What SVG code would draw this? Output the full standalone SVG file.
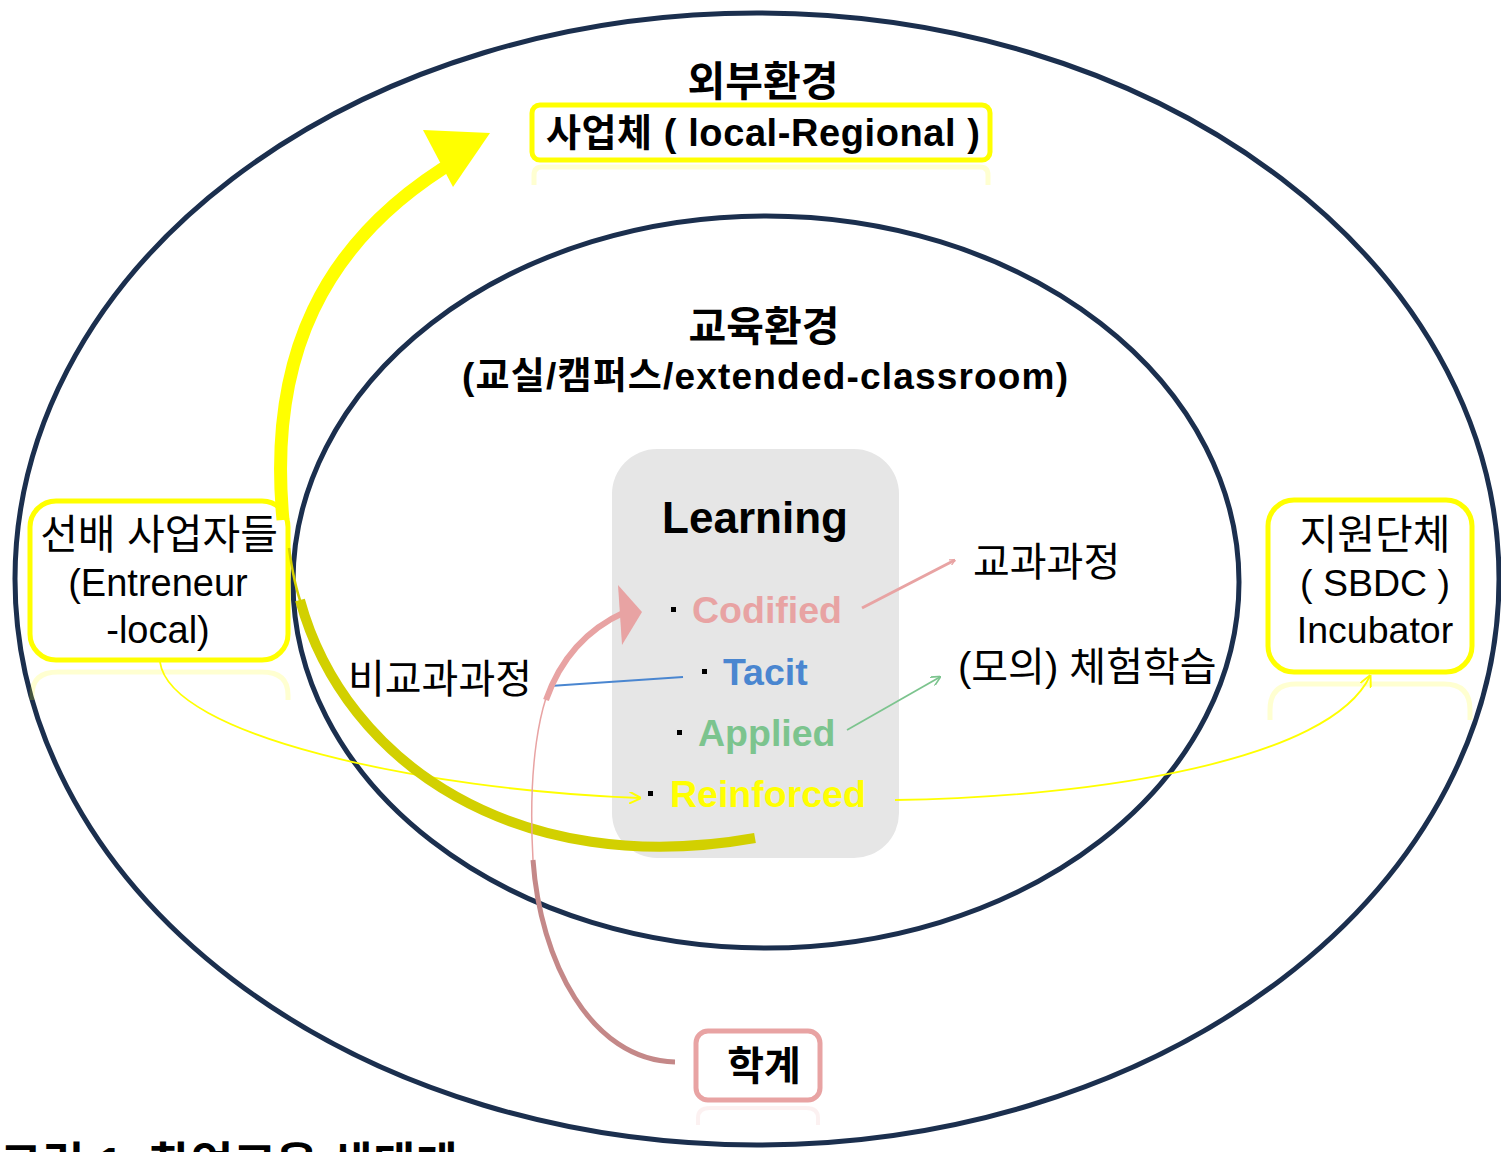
<svg xmlns="http://www.w3.org/2000/svg" width="1501" height="1152" viewBox="0 0 1501 1152">
<defs>
<style>
.ring{fill:none;stroke:#1b2f4e;stroke-width:5}
.t{font-family:"Liberation Sans","Noto Sans CJK KR",sans-serif;fill:#000}
.b{font-weight:bold}
.ybox{fill:#fff;stroke:#ffff00;stroke-width:5}
.refl{fill:none;stroke:#ffff00;stroke-width:5;opacity:0.18}
.c{font-family:"Liberation Sans","Noto Sans CJK KR",sans-serif;font-weight:bold;font-size:37.5px}
</style>
<marker id="ap" viewBox="0 0 10 10" refX="9" refY="5" markerWidth="6" markerHeight="6" orient="auto" markerUnits="userSpaceOnUse"><path d="M0,0 L10,5 L0,10" fill="none" stroke="#e8a3a3" stroke-width="2"/></marker>
<marker id="ag" viewBox="0 0 10 10" refX="9" refY="5" markerWidth="10" markerHeight="10" orient="auto" markerUnits="userSpaceOnUse"><path d="M0,0 L10,5 L0,10" fill="none" stroke="#7cc48e" stroke-width="1.6"/></marker>
<marker id="ay" viewBox="0 0 10 10" refX="9" refY="5" markerWidth="12" markerHeight="12" orient="auto" markerUnits="userSpaceOnUse"><path d="M0,0 L10,5 L0,10" fill="none" stroke="#ffff00" stroke-width="1.6"/></marker>
</defs>
<rect width="1501" height="1152" fill="#fff"/>

<g id="outer-env">
<ellipse class="ring" cx="757" cy="579" rx="742" ry="566"/>
<text class="t b" x="763" y="96" font-size="41" text-anchor="middle">외부환경</text>
</g>
<g id="edu-env">
<ellipse class="ring" cx="766" cy="582" rx="473" ry="366"/>
<text class="t b" x="764" y="341" font-size="41" text-anchor="middle">교육환경</text>
<text class="t b" x="765" y="389" font-size="37" text-anchor="middle" textLength="606" lengthAdjust="spacing">(교실/캠퍼스/extended-classroom)</text>
</g>

<g id="learning">
<rect x="612" y="449" width="287" height="409" rx="45" fill="#e6e6e6"/>
<text class="t b" x="755" y="533" font-size="44" text-anchor="middle">Learning</text>
<rect x="671" y="607" width="5" height="5" fill="#000"/>
<text class="c" x="692" y="623" fill="#e8a3a3">Codified</text>
<rect x="702" y="669" width="5" height="5" fill="#000"/>
<text class="c" x="723" y="685" fill="#4a86d0">Tacit</text>
<rect x="677" y="730" width="5" height="5" fill="#000"/>
<text class="c" x="698" y="746" fill="#7cc48e">Applied</text>
<rect x="648" y="791" width="5" height="5" fill="#000"/>
<text class="c" x="670" y="807" fill="#ffff00">Reinforced</text>
</g>

<g id="business">
<rect class="ybox" x="532" y="105" width="458" height="55" rx="8"/>
<path class="refl" d="M534,185 V175 Q534,167 542,167 H980 Q988,167 988,175 V185"/>
<text class="t b" x="763" y="146" font-size="38" text-anchor="middle" textLength="434" lengthAdjust="spacing">사업체 ( local-Regional  )</text>
</g>

<g id="seniors">
<rect class="ybox" x="30" y="501" width="258" height="159" rx="26" stroke-width="6"/>
<path class="refl" d="M32,700 V695 Q32,672 58,672 H262 Q288,672 288,695 V700"/>
<text class="t" x="159" y="549" font-size="41" text-anchor="middle">선배 사업자들</text>
<text class="t" x="158" y="596" font-size="38" text-anchor="middle">(Entreneur</text>
<text class="t" x="158" y="643" font-size="38" text-anchor="middle">-local)</text>
</g>

<g id="support">
<rect class="ybox" x="1268" y="500" width="204" height="172" rx="26" stroke-width="6"/>
<path class="refl" d="M1270,720 V710 Q1270,684 1296,684 H1444 Q1470,684 1470,710 V720"/>
<text class="t" x="1375" y="549" font-size="41" text-anchor="middle">지원단체</text>
<text class="t" x="1375" y="596" font-size="37.5" text-anchor="middle">( SBDC )</text>
<text class="t" x="1375" y="643" font-size="37.5" text-anchor="middle">Incubator</text>
</g>

<g id="academia">
<rect x="696" y="1031" width="124" height="69" rx="12" fill="#fff" stroke="#e8a3a3" stroke-width="5"/>
<path d="M698,1125 V1118 Q698,1108 710,1108 H806 Q818,1108 818,1118 V1125" fill="none" stroke="#e8a3a3" stroke-width="4" opacity="0.15"/>
<text class="t b" x="764" y="1080" font-size="40" text-anchor="middle">학계</text>
</g>

<g id="labels">
<text class="t" x="973" y="576" font-size="40">교과과정</text>
<text class="t" x="958" y="681" font-size="40">(모의) 체험학습</text>
<text class="t" x="348" y="693" font-size="40">비교과과정</text>
</g>

<g id="caption">
<text class="t b" x="0" y="1180" font-size="46">그림 1. 창업교육 생태계</text>
</g>

<g id="connectors">
<line x1="862" y1="608" x2="955" y2="560" stroke="#e8a3a3" stroke-width="3" marker-end="url(#ap)"/>
<line x1="683" y1="677" x2="550" y2="686" stroke="#4a86d0" stroke-width="2"/>
<line x1="847" y1="730" x2="940" y2="677" stroke="#7cc48e" stroke-width="1.8" marker-end="url(#ag)"/>
<path d="M160,662 C170,735 420,790 640,798" fill="none" stroke="#ffff00" stroke-width="1.8" marker-end="url(#ay)"/>
<path d="M895,800 C1100,797 1330,760 1370,676" fill="none" stroke="#ffff00" stroke-width="1.8" marker-end="url(#ay)"/>
<path d="M289,548 C292,570 296,590 302,606" fill="none" stroke="#d4d000" stroke-width="2.5"/>
<path d="M300,600 C345,765 520,880 755,838" fill="none" stroke="#d2d000" stroke-width="10"/>
<path d="M283,520 C268,360 320,240 460,158" fill="none" stroke="#ffff00" stroke-width="13"/>
<polygon points="423,130 490,133 453,187" fill="#ffff00"/>
<path d="M675,1062 C590,1060 540,960 533,860" fill="none" stroke="#c48888" stroke-width="5"/>
<path d="M533,860 C528,770 538,700 560,668" fill="none" stroke="#e8a3a3" stroke-width="1.5"/>
<path d="M546,700 C560,660 585,630 625,612" fill="none" stroke="#e8a3a3" stroke-width="6"/>
<polygon points="618,585 642,612 622,645" fill="#e8a3a3"/>
</g>
</svg>
